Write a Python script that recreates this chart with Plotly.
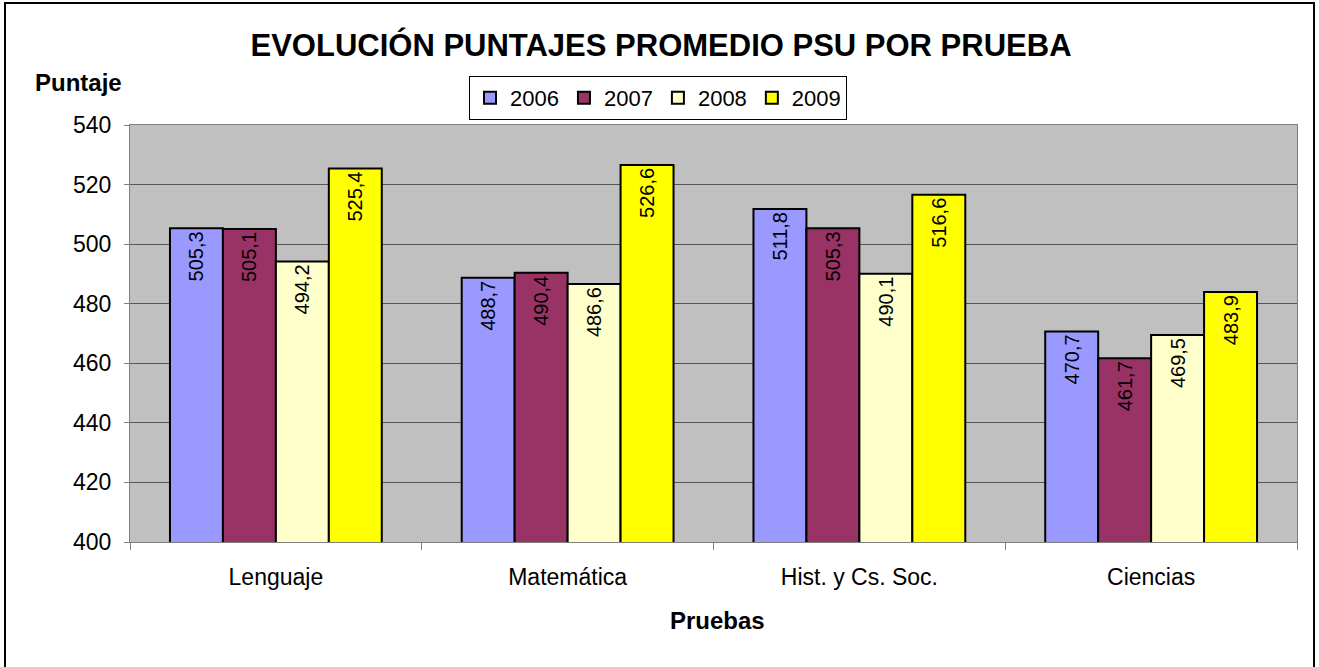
import plotly.graph_objects as go

categories = ["Lenguaje", "Matemática", "Hist. y Cs. Soc.", "Ciencias"]
years = ["2006", "2007", "2008", "2009"]
values_2006 = [505.3, 488.7, 511.8, 470.7]
values_2007 = [505.1, 490.4, 505.3, 461.7]
values_2008 = [494.2, 486.6, 490.1, 469.5]
values_2009 = [525.4, 526.6, 516.6, 483.9]
series = [values_2006, values_2007, values_2008, values_2009]
colors = ["#9999FF", "#993366", "#FFFFCC", "#FFFF00"]

FONT = "Liberation Sans, Arial, sans-serif"

fig = go.Figure()
for name, vals, col in zip(years, series, colors):
    fig.add_trace(go.Bar(
        name=name, x=categories, y=vals,
        marker=dict(color=col, line=dict(color="black", width=2)),
        text=[f"{v:.1f}".replace(".", ",") for v in vals],
        textposition="inside", insidetextanchor="end", textangle=-90,
        textfont=dict(family=FONT, size=20, color="black"),
        constraintext="none", cliponaxis=False,
    ))

L, R, T, B = 130, 22, 125, 125
W, H = 1319, 667
pw, ph = W - L - R, H - T - B

def px(x):
    return (x - L) / pw

def py(y):
    return (H - B - y) / ph

fig.update_layout(
    width=W, height=H,
    margin=dict(l=L, r=R, t=T, b=B),
    paper_bgcolor="white", plot_bgcolor="#C0C0C0",
    barmode="group", bargap=0.274, bargroupgap=0,
    font=dict(family=FONT, size=23, color="black"),
    title=dict(text="<b>EVOLUCIÓN PUNTAJES PROMEDIO PSU POR PRUEBA</b>",
               x=px(661), xanchor="center", y=1 - 45 / H, yanchor="middle",
               xref="paper", font=dict(family=FONT, size=31, color="black")),
    legend=dict(orientation="h", x=px(658), xanchor="center", y=py(76), yanchor="top",
                bgcolor="white", bordercolor="black", borderwidth=1,
                font=dict(family=FONT, size=22), itemsizing="constant",
                traceorder="normal", itemwidth=30),
    showlegend=True,
)
fig.update_yaxes(range=[400, 540], dtick=20, showgrid=True, gridcolor="#555555", gridwidth=1,
                 showline=True, linecolor="#808080", linewidth=1, mirror=True,
                 ticks="outside", ticklen=5, tickcolor="#808080", ticklabelstandoff=8,
                 tickfont=dict(family=FONT, size=23), zeroline=False)
fig.update_xaxes(showline=True, linecolor="#808080", linewidth=1, mirror=True,
                 ticks="outside", ticklen=7, tickcolor="#808080", tickson="boundaries",
                 ticklabelstandoff=14,
                 tickfont=dict(family=FONT, size=23))

fig.add_annotation(text="<b>Puntaje</b>", xref="paper", yref="paper",
                   x=px(33), xanchor="left", y=py(82), yanchor="middle",
                   showarrow=False, font=dict(family=FONT, size=24))
fig.add_annotation(text="<b>Pruebas</b>", xref="paper", yref="paper",
                   x=px(717), xanchor="center", y=py(620), yanchor="middle",
                   showarrow=False, font=dict(family=FONT, size=24))
fig.add_shape(type="rect", xref="paper", yref="paper",
              x0=px(5), x1=px(1314), y0=py(3), y1=py(720),
              line=dict(color="black", width=2), fillcolor="rgba(0,0,0,0)", layer="above")

fig.write_html("out.html", config={"displayModeBar": False},
               post_script="document.body.style.margin='0';")
